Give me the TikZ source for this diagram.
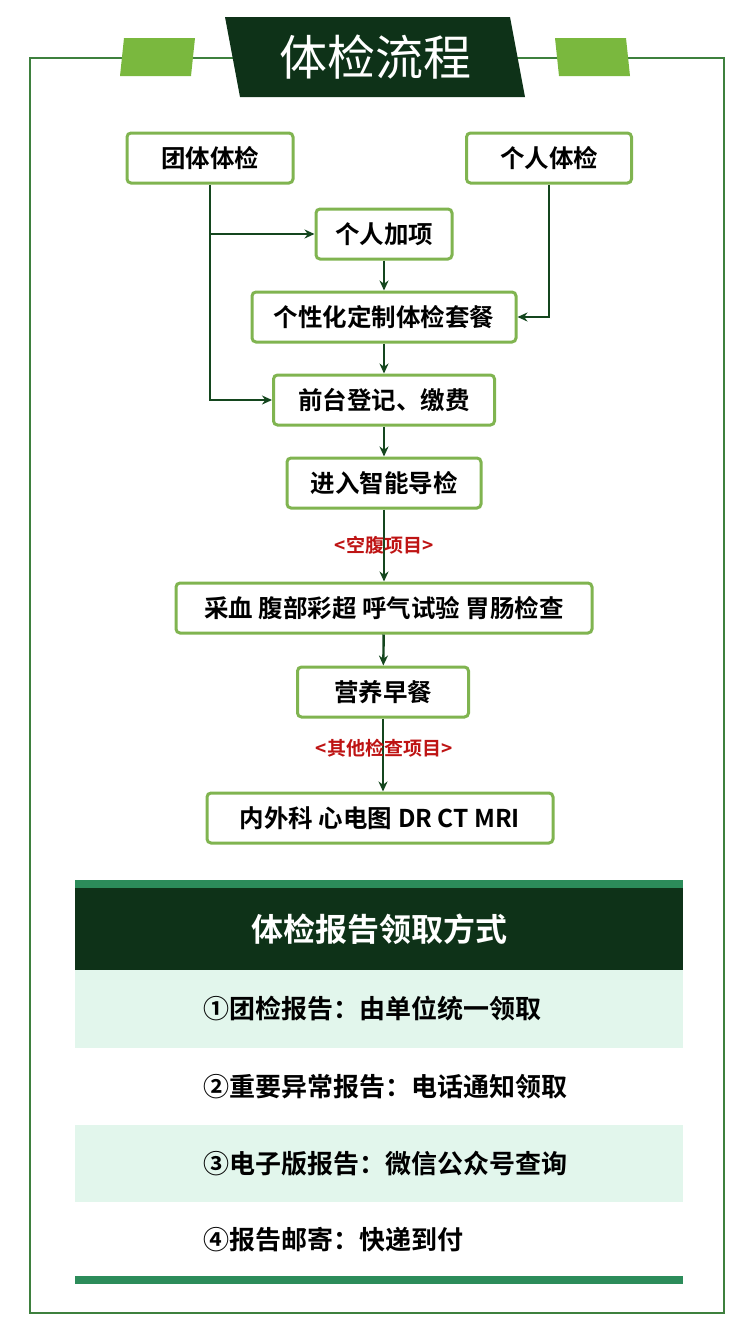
\documentclass[tikz,border=0pt]{standalone}
\usepackage{fontspec}
\setmainfont{Noto Sans CJK SC Bold}
\newfontfamily\titlefont{Noto Sans CJK SC}
\usetikzlibrary{arrows.meta}
\definecolor{frame}{RGB}{62,128,62}
\definecolor{boxline}{RGB}{128,180,80}
\definecolor{lightgreen}{RGB}{122,184,62}
\definecolor{darkgreen}{RGB}{14,50,24}
\definecolor{arrowgreen}{RGB}{20,70,30}
\definecolor{stripe}{RGB}{44,140,90}
\definecolor{mint}{RGB}{226,246,236}
\definecolor{labelred}{RGB}{190,20,20}
\begin{document}
\begin{tikzpicture}[
  x=1pt, y=-1pt,
  stepbox/.style={draw=boxline, line width=3pt, fill=white, rounded corners=4pt,
    minimum height=50pt, font=\fontsize{24.5}{26}\selectfont, inner sep=0pt},
  flow/.style={draw=arrowgreen, line width=2.4pt, -{Stealth[length=10pt,width=9pt]}},
  redlabel/.style={text=labelred, font=\fontsize{19}{21}\selectfont},
  rowtext/.style={font=\fontsize{26}{28}\selectfont, anchor=west}
]
\useasboundingbox (0,0) rectangle (750,1333);

% frame and title
\draw[frame, line width=2pt] (30,58) rectangle (724,1313);
\fill[lightgreen] (124,38) -- (195,38) -- (191,76) -- (120,76) -- cycle;
\fill[lightgreen] (555,38) -- (626,38) -- (630,76) -- (559,76) -- cycle;
\fill[darkgreen] (225,17) -- (510,17) -- (525,97) -- (240,97) -- cycle;
\node[text=white, font=\titlefont\fontsize{48}{52}\selectfont] (title) at (375,57) {体检流程};

% flow boxes
\node[stepbox, minimum width=166pt] (group) at (210,158) {团体体检};
\node[stepbox, minimum width=165pt] (single) at (549,158) {个人体检};
\node[stepbox, minimum width=136pt] (extra) at (384,234) {个人加项};
\node[stepbox, minimum width=264pt] (custom) at (384,317) {个性化定制体检套餐};
\node[stepbox, minimum width=221pt] (desk) at (384,400) {前台登记、缴费};
\node[stepbox, minimum width=194pt] (guide) at (384,483) {进入智能导检};
\node[stepbox, minimum width=416pt] (fasting) at (384,608) {采血\ 腹部彩超\ 呼气试验\ 胃肠检查};
\node[stepbox, minimum width=171pt] (meal) at (383,692) {营养早餐};
\node[stepbox, minimum width=346pt] (other) at (380,818) {内外科\ 心电图\ DR CT MRI};

% connectors
\coordinate (split) at (group.south |- extra.west);
\draw[flow] (group.south) |- (desk.west);
\draw[flow] (split) -- (extra.west);
\draw[flow] (single.south) |- (custom.east);
\draw[flow] (extra) -- (custom);
\draw[flow] (custom) -- (desk);
\draw[flow] (desk) -- (guide);
\draw[flow] (guide) -- (fasting);
\draw[flow] (fasting) -- (meal);
\draw[flow] (meal.south) -- (meal.south |- other.north);
\node[redlabel] (fastlabel) at (384,545) {<空腹项目>};
\node[redlabel] (otherlabel) at (384,748) {<其他检查项目>};

% report panel
\fill[stripe] (75,880) rectangle (683,888);
\fill[darkgreen] (75,888) rectangle (683,970);
\fill[mint] (75,970) rectangle (683,1048);
\fill[mint] (75,1125) rectangle (683,1202);
\fill[stripe] (75,1276) rectangle (683,1284);
\node[text=white, font=\fontsize{32}{36}\selectfont] (head) at (379,929) {体检报告领取方式};
\node[rowtext] (r1) at (200,1009) {①团检报告：由单位统一领取};
\node[rowtext] (r2) at (200,1087) {②重要异常报告：电话通知领取};
\node[rowtext] (r3) at (200,1164) {③电子版报告：微信公众号查询};
\node[rowtext] (r4) at (200,1240) {④报告邮寄：快递到付};
\end{tikzpicture}
\end{document}
